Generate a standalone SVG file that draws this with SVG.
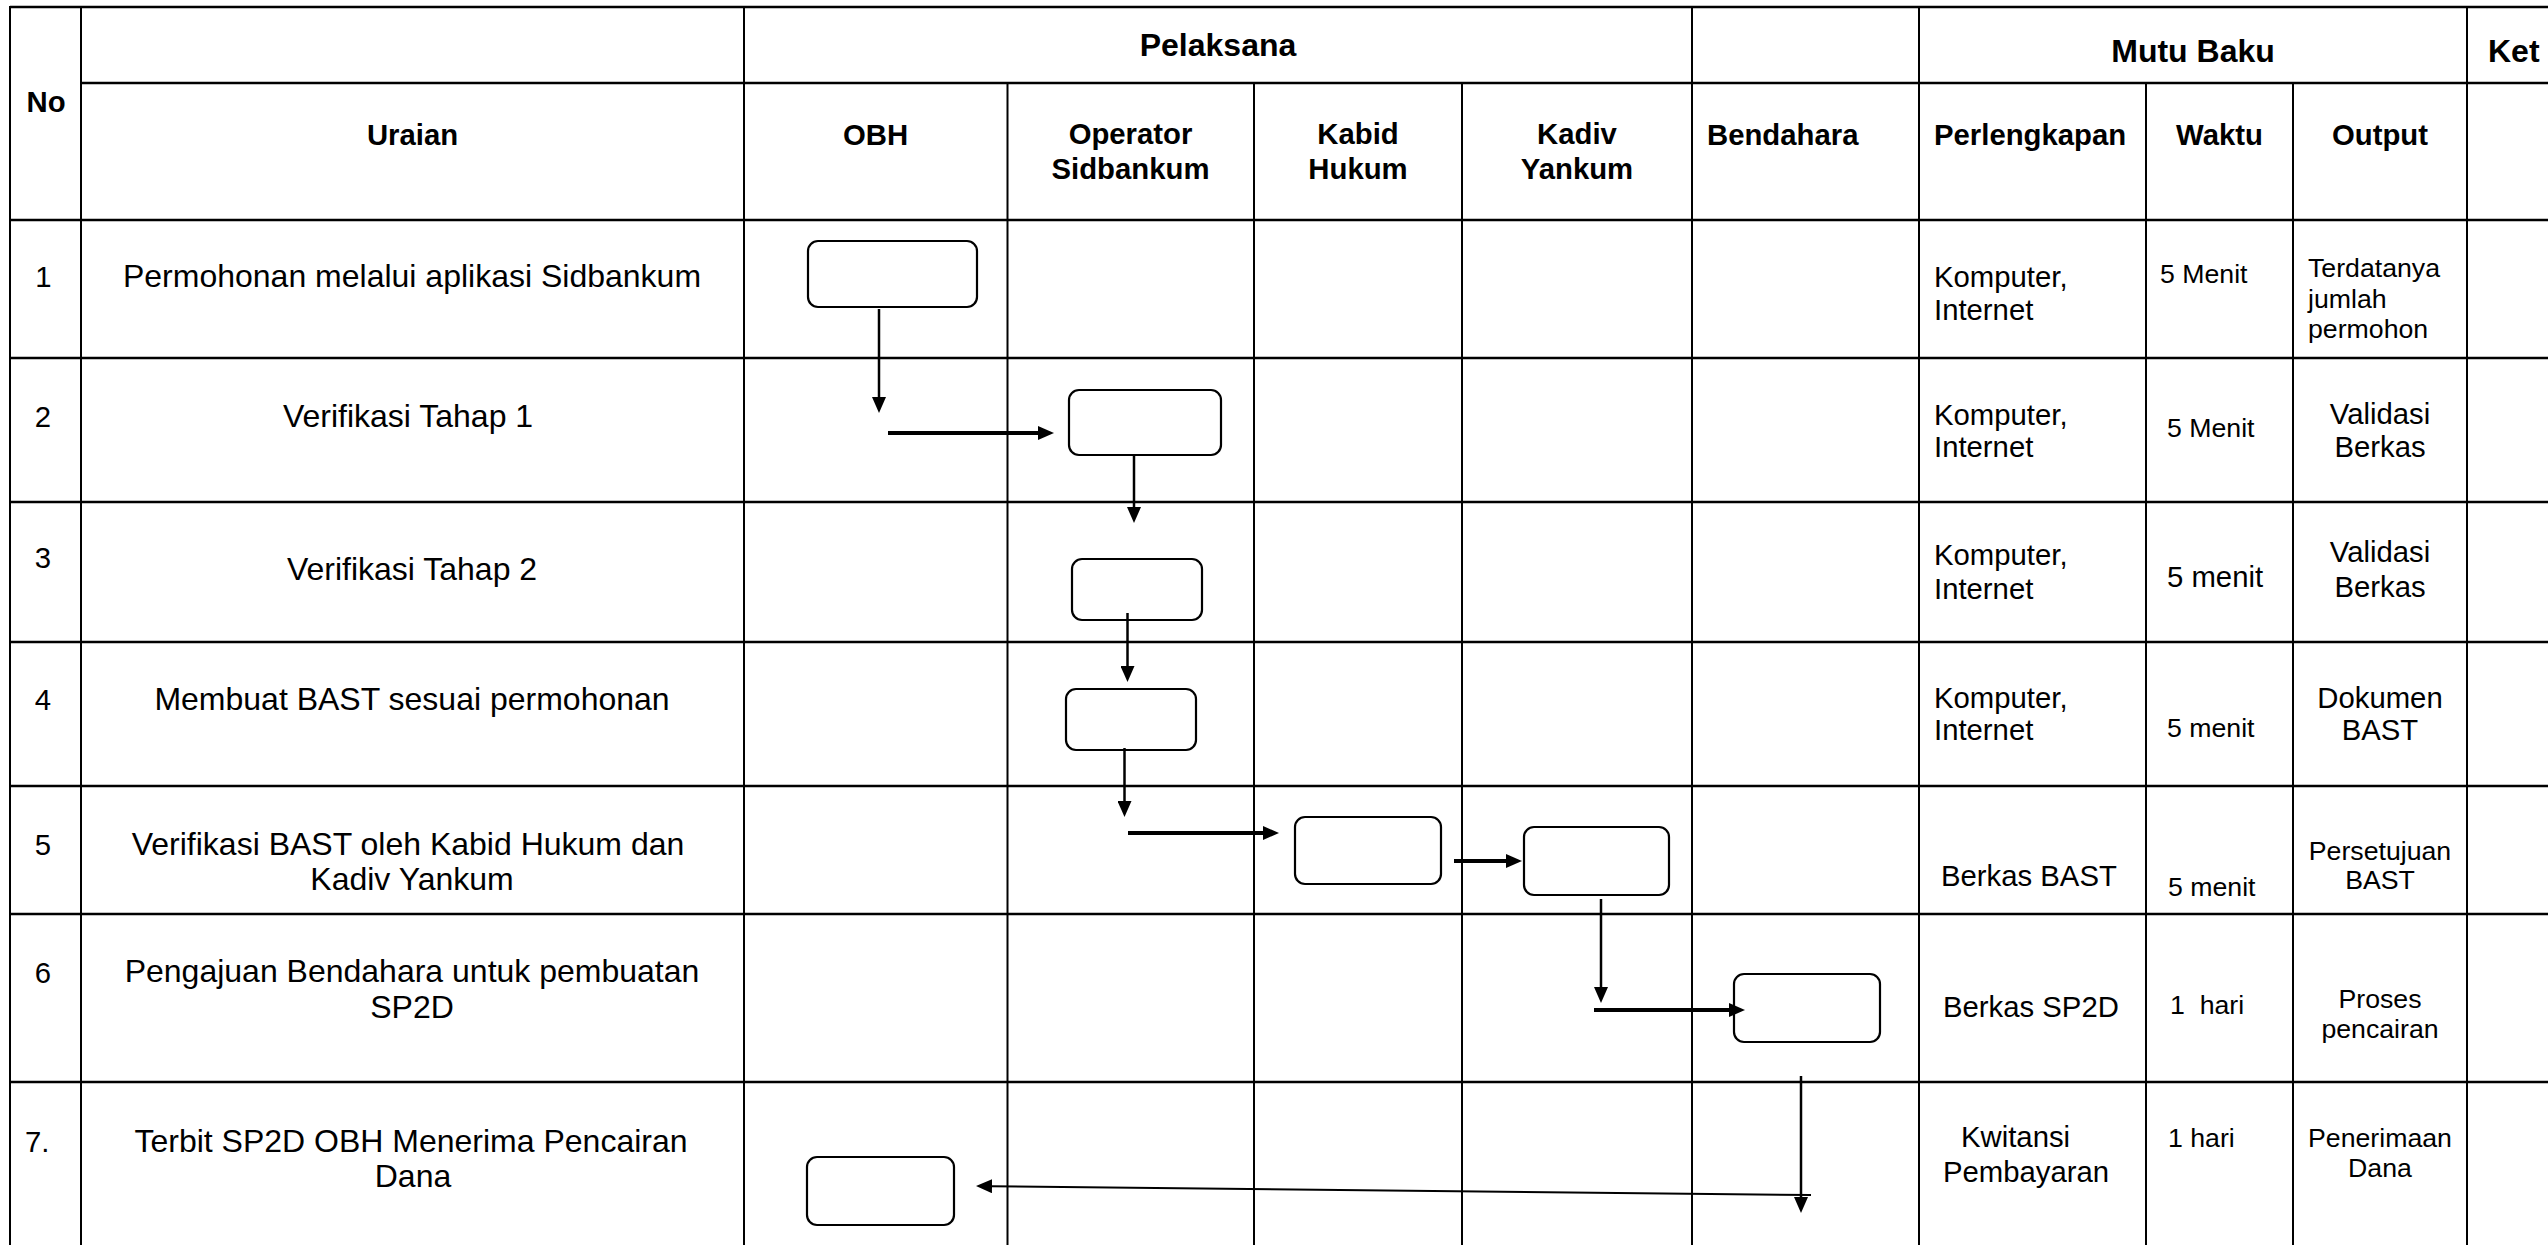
<svg xmlns="http://www.w3.org/2000/svg" width="2548" height="1245" viewBox="0 0 2548 1245">
<defs>
<marker id="ah" markerUnits="userSpaceOnUse" markerWidth="16" markerHeight="14" refX="1" refY="7" orient="auto" viewBox="0 0 16 14"><path d="M0,0 L16,7 L0,14 Z" fill="#000"/></marker>
</defs>
<style>
.grid line{stroke:#000}
.h{stroke-width:2.5}
.v{stroke-width:2}
text{font-family:"Liberation Sans",Arial,sans-serif;fill:#000}
.hb{font-weight:bold;font-size:32px;text-anchor:middle}
.hs{font-weight:bold;font-size:29.3px}
.m{text-anchor:middle}
.ura{font-size:32px;text-anchor:middle}
.num{font-size:29.3px;text-anchor:middle}
.t11{font-size:29.3px}
.t10{font-size:26.7px}
.box{fill:#fff;stroke:#000;stroke-width:2.2}
.cn{fill:none;stroke:#000;marker-end:url(#ah)}
.thin{stroke-width:2.5}
.thick{stroke-width:4}
</style>
<rect x="0" y="0" width="2548" height="1245" fill="#fff"/>
<g id="table" class="grid">
<line class="h" x1="10" y1="7" x2="2548" y2="7"/>
<line class="h" x1="81" y1="83" x2="2548" y2="83"/>
<line class="h" x1="10" y1="220" x2="2548" y2="220"/>
<line class="h" x1="10" y1="358" x2="2548" y2="358"/>
<line class="h" x1="10" y1="502" x2="2548" y2="502"/>
<line class="h" x1="10" y1="642" x2="2548" y2="642"/>
<line class="h" x1="10" y1="786" x2="2548" y2="786"/>
<line class="h" x1="10" y1="914" x2="2548" y2="914"/>
<line class="h" x1="10" y1="1082" x2="2548" y2="1082"/>
<line class="v" x1="10" y1="6" x2="10" y2="1245"/>
<line class="v" x1="81" y1="6" x2="81" y2="1245"/>
<line class="v" x1="744" y1="6" x2="744" y2="1245"/>
<line class="v" x1="1007.5" y1="83" x2="1007.5" y2="1245"/>
<line class="v" x1="1254" y1="83" x2="1254" y2="1245"/>
<line class="v" x1="1462" y1="83" x2="1462" y2="1245"/>
<line class="v" x1="1692" y1="6" x2="1692" y2="1245"/>
<line class="v" x1="1919" y1="6" x2="1919" y2="1245"/>
<line class="v" x1="2146" y1="83" x2="2146" y2="1245"/>
<line class="v" x1="2293" y1="83" x2="2293" y2="1245"/>
<line class="v" x1="2467" y1="6" x2="2467" y2="1245"/>
</g>
<g id="headers">
<text class="hb" x="1218" y="56">Pelaksana</text>
<text class="hb" x="2193" y="62">Mutu Baku</text>
<text class="hb" x="2488" y="62" style="text-anchor:start">Ket</text>
<text class="hs m" x="46" y="112">No</text>
<text class="hs m" x="412.5" y="145">Uraian</text>
<text class="hs m" x="875.5" y="145">OBH</text>
<text class="hs m" x="1130.5" y="144">Operator</text>
<text class="hs m" x="1130.5" y="179">Sidbankum</text>
<text class="hs m" x="1358" y="144">Kabid</text>
<text class="hs m" x="1358" y="179">Hukum</text>
<text class="hs m" x="1577" y="144">Kadiv</text>
<text class="hs m" x="1577" y="179">Yankum</text>
<text class="hs" x="1707" y="145">Bendahara</text>
<text class="hs" x="1934" y="145">Perlengkapan</text>
<text class="hs m" x="2219.5" y="145">Waktu</text>
<text class="hs m" x="2380" y="145">Output</text>
</g>
<g id="rows">
<text class="num" x="43.5" y="287">1</text>
<text class="ura" x="412" y="287">Permohonan melalui aplikasi Sidbankum</text>
<text class="t11" x="1934" y="287">Komputer,</text>
<text class="t11" x="1934" y="320">Internet</text>
<text class="t10" x="2160" y="283">5 Menit</text>
<text class="t10" x="2308" y="277">Terdatanya</text>
<text class="t10" x="2308" y="308">jumlah</text>
<text class="t10" x="2308" y="338">permohon</text>

<text class="num" x="43" y="427">2</text>
<text class="ura" x="408" y="427">Verifikasi Tahap 1</text>
<text class="t11" x="1934" y="425">Komputer,</text>
<text class="t11" x="1934" y="457">Internet</text>
<text class="t10" x="2167" y="437">5 Menit</text>
<text class="t11 m" x="2380" y="424">Validasi</text>
<text class="t11 m" x="2380" y="457">Berkas</text>

<text class="num" x="43" y="568">3</text>
<text class="ura" x="412" y="580">Verifikasi Tahap 2</text>
<text class="t11" x="1934" y="565">Komputer,</text>
<text class="t11" x="1934" y="599">Internet</text>
<text class="t11" x="2167" y="587">5 menit</text>
<text class="t11 m" x="2380" y="562">Validasi</text>
<text class="t11 m" x="2380" y="597">Berkas</text>

<text class="num" x="43" y="710">4</text>
<text class="ura" x="412" y="710">Membuat BAST sesuai permohonan</text>
<text class="t11" x="1934" y="708">Komputer,</text>
<text class="t11" x="1934" y="740">Internet</text>
<text class="t10" x="2167" y="737">5 menit</text>
<text class="t11 m" x="2380" y="708">Dokumen</text>
<text class="t11 m" x="2380" y="740">BAST</text>

<text class="num" x="43" y="855">5</text>
<text class="ura" x="408" y="855">Verifikasi BAST oleh Kabid Hukum dan</text>
<text class="ura" x="412" y="890">Kadiv Yankum</text>
<text class="t11" x="1941" y="886">Berkas BAST</text>
<text class="t10" x="2168" y="896">5 menit</text>
<text class="t10 m" x="2380" y="860">Persetujuan</text>
<text class="t10 m" x="2380" y="889">BAST</text>

<text class="num" x="43" y="983">6</text>
<text class="ura" x="412" y="982">Pengajuan Bendahara untuk pembuatan</text>
<text class="ura" x="412" y="1018">SP2D</text>
<text class="t11" x="1943" y="1017">Berkas SP2D</text>
<text class="t10" x="2170" y="1014" xml:space="preserve">1  hari</text>
<text class="t10 m" x="2380" y="1008">Proses</text>
<text class="t10 m" x="2380" y="1038">pencairan</text>

<text class="num" x="25" y="1152" style="text-anchor:start">7.</text>
<text class="ura" x="411" y="1152">Terbit SP2D OBH Menerima Pencairan</text>
<text class="ura" x="413" y="1187">Dana</text>
<text class="t11" x="1961" y="1147">Kwitansi</text>
<text class="t11" x="1943" y="1182">Pembayaran</text>
<text class="t10" x="2168" y="1147">1 hari</text>
<text class="t10 m" x="2380" y="1147">Penerimaan</text>
<text class="t10 m" x="2380" y="1177">Dana</text>
</g>
<g id="node-1"><rect class="box" x="808" y="241" width="169" height="66" rx="10"/></g>
<g id="node-2"><rect class="box" x="1069" y="390" width="152" height="65" rx="10"/></g>
<g id="node-3"><rect class="box" x="1072" y="559" width="130" height="61" rx="10"/></g>
<g id="node-4"><rect class="box" x="1066" y="689" width="130" height="61" rx="10"/></g>
<g id="node-5"><rect class="box" x="1295" y="817" width="146" height="67" rx="10"/></g>
<g id="node-6"><rect class="box" x="1524" y="827" width="145" height="68" rx="10"/></g>
<g id="node-7"><rect class="box" x="1734" y="974" width="146" height="68" rx="10"/></g>
<g id="node-8"><rect class="box" x="807" y="1157" width="147" height="68" rx="10"/></g>
<g id="connectors">
<line class="cn thin" x1="879" y1="309" x2="879" y2="398"/>
<line class="cn thick" x1="888" y1="433" x2="1039" y2="433"/>
<line class="cn thin" x1="1134" y1="455" x2="1134" y2="508"/>
<line class="cn thin" x1="1127.5" y1="613" x2="1127.5" y2="667"/>
<line class="cn thin" x1="1124.5" y1="748" x2="1124.5" y2="802"/>
<line class="cn thick" x1="1128" y1="833" x2="1264" y2="833"/>
<line class="cn thick" x1="1454" y1="861" x2="1507" y2="861"/>
<line class="cn thin" x1="1601" y1="899" x2="1601" y2="988"/>
<line class="cn thick" x1="1594" y1="1010" x2="1730" y2="1010"/>
<line class="cn thin" x1="1801" y1="1076" x2="1801" y2="1198"/>
<line class="cn" style="stroke-width:2" x1="1811" y1="1195" x2="991" y2="1186.2"/>
</g>
</svg>
